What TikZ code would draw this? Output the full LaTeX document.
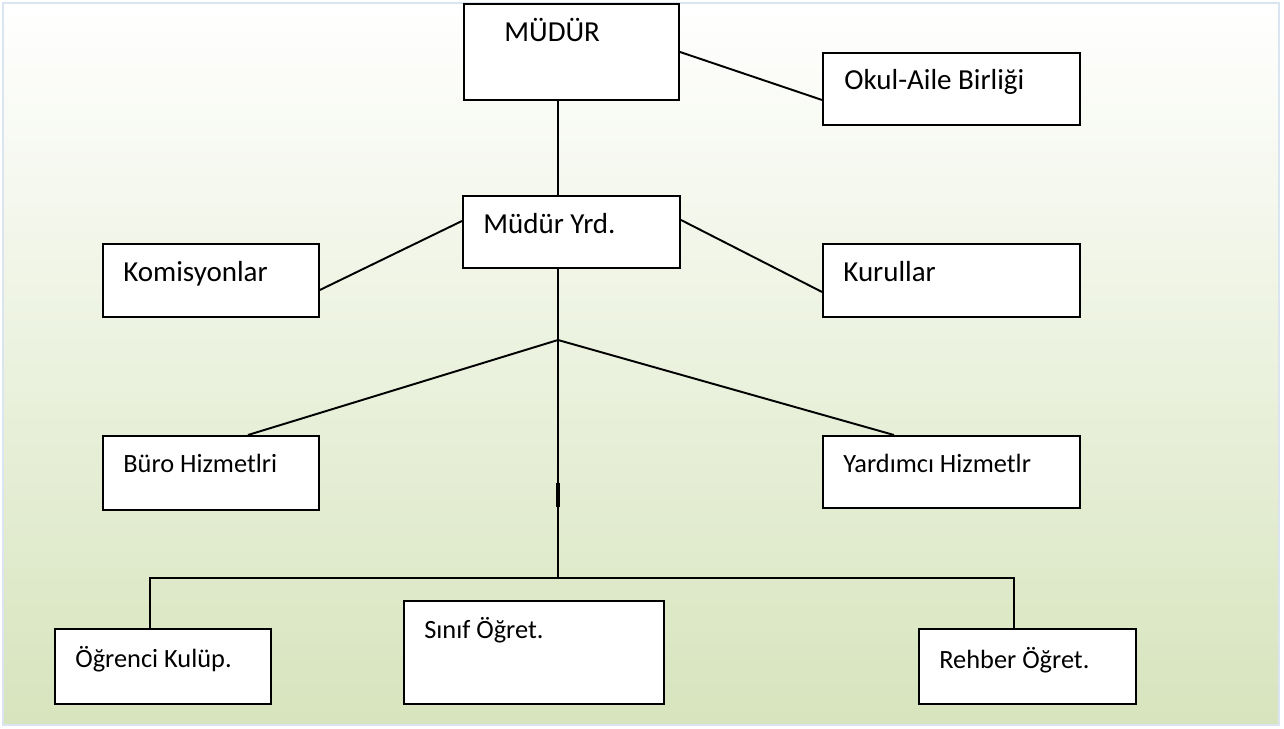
\documentclass[tikz,border=0pt]{standalone}
\usepackage{fontspec}
\setmainfont{Carlito}
\usetikzlibrary{positioning, calc}

\definecolor{frameblue}{HTML}{DBE5F1}
\definecolor{paleolive}{HTML}{D7E4BD}

\newcommand{\pu}{0.02cm}

\tikzset{
  orgbox/.style={draw, fill=white, line width=1.1pt, inner sep=0pt, anchor=north west},
  bigtxt/.style={inner sep=0pt, anchor=base west, font=\fontsize{16.5}{18}\selectfont},
  smalltxt/.style={inner sep=0pt, anchor=base west, font=\fontsize{15}{17}\selectfont},
  link/.style={line width=1.1pt}
}

\begin{document}
\begin{tikzpicture}[x=\pu, y=-\pu]
    \useasboundingbox (0,0) rectangle (1284,729);
    % background panel
    \draw[frameblue, line width=1.5pt, top color=white, bottom color=paleolive] (3,3) rectangle (1279,725);

    % boxes
    \node[orgbox, minimum width=215*\pu, minimum height=96*\pu] (mudur) at (463,3) {};
    \node[orgbox, minimum width=257*\pu, minimum height=72*\pu] (okul) at (822,52) {};
    \node[orgbox, minimum width=217*\pu, minimum height=72*\pu] (yrd) at (462,195) {};
    \node[orgbox, minimum width=216*\pu, minimum height=73*\pu] (komis) at (102,243) {};
    \node[orgbox, minimum width=257*\pu, minimum height=73*\pu] (kurul) at (822,243) {};
    \node[orgbox, minimum width=216*\pu, minimum height=74*\pu] (buro) at (102,435) {};
    \node[orgbox, minimum width=257*\pu, minimum height=72*\pu] (yardimci) at (822,435) {};
    \node[orgbox, minimum width=216*\pu, minimum height=75*\pu] (ogrenci) at (54,628) {};
    \node[orgbox, minimum width=260*\pu, minimum height=103*\pu] (sinif) at (403,600) {};
    \node[orgbox, minimum width=217*\pu, minimum height=75*\pu] (rehber) at (918,628) {};

    % texts
    \node[bigtxt] (mudur-t) at (504,42) {MÜDÜR};
    \node[bigtxt] (okul-t) at (844,90) {Okul-Aile Birliği};
    \node[bigtxt] (yrd-t) at (483,234) {Müdür Yrd.};
    \node[bigtxt] (komis-t) at (123,282) {Komisyonlar};
    \node[bigtxt] (kurul-t) at (843,282) {Kurullar};
    \node[smalltxt] (buro-t) at (123,472) {Büro Hizmetlri};
    \node[smalltxt] (yardimci-t) at (843,472) {Yardımcı Hizmetlr};
    \node[smalltxt] (ogrenci-t) at (75,667) {Öğrenci Kulüp.};
    \node[smalltxt] (sinif-t) at (424,638) {Sınıf Öğret.};
    \node[smalltxt] (rehber-t) at (939,668) {Rehber Öğret.};

    % connectors
    \coordinate (hub) at (558,340);
    \coordinate (bar) at (558,578);
    \coordinate (barL) at (150,578);
    \coordinate (barR) at (1014,578);
    \draw[link] (mudur.east) -- ([yshift=-0.22cm]okul.west);
    \draw[link] (mudur.south -| hub) -- (yrd.north -| hub);
    \draw[link] ([yshift=0.22cm]yrd.west) -- ([yshift=-0.19cm]komis.east);
    \draw[link] ([yshift=0.24cm]yrd.east) -- ([yshift=-0.23cm]kurul.west);
    \draw[link] (yrd.south -| hub) -- (hub) -- (bar);
    \draw[link] (hub) -- ([xshift=0.74cm]buro.north);
    \draw[link] (hub) -- ([xshift=-1.15cm]yardimci.north);
    \draw[link] (ogrenci.north -| barL) -- (barL) -- (barR) -- (rehber.north -| barR);
    \draw[line width=1.8pt] ($(hub)!0.6!(bar)$) -- ($(hub)!0.7!(bar)$);
\end{tikzpicture}
\end{document}
